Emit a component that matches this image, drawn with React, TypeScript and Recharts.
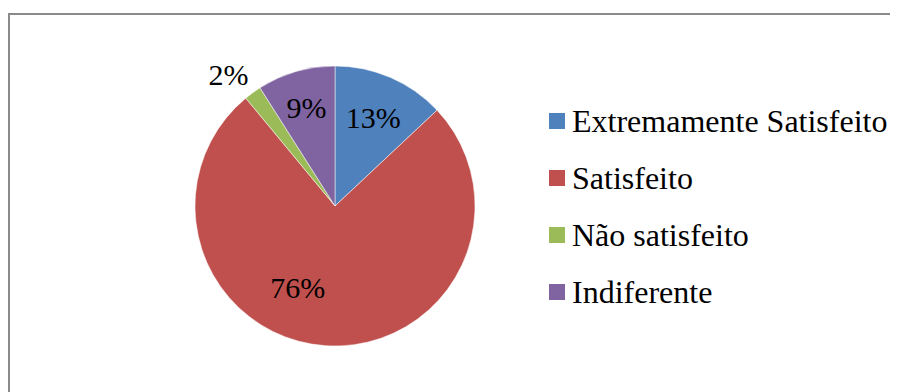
import { PieChart, Pie, Cell, Legend } from "recharts";

const categories = ["Extremamente Satisfeito", "Satisfeito", "Não satisfeito", "Indiferente"];
const shares = [13, 76, 2, 9];
const colors = ["#4F81BD", "#C0504D", "#9BBB59", "#8064A2"];

// where excel's "best fit" put each label: fraction of radius, angle nudge (deg)
const labelRadius = [0.69, 0.64, 1.21, 0.73];
const labelShift = [0, -21, 3, 0];

const RAD = Math.PI / 180;
const FONT = "Liberation Serif";

const chartData = categories.map((name, i) => ({ name, value: shares[i] }));

const renderLabel = (props: any) => {
  const { cx, cy, midAngle, outerRadius, index, value } = props;
  const r = outerRadius * labelRadius[index];
  const a = (midAngle + labelShift[index]) * RAD;
  const x = cx + r * Math.cos(a);
  const y = cy - r * Math.sin(a);
  return (
    <text
      x={x}
      y={y}
      fill="#000"
      textAnchor="middle"
      dominantBaseline="central"
      fontFamily={FONT}
      fontSize={30}
    >
      {value}%
    </text>
  );
};

// legend drawn in data order (recharts sorts it otherwise)
const renderLegend = () => (
  <div style={{ fontFamily: FONT, fontSize: 32, color: "#000" }}>
    {categories.map((name, i) => (
      <div key={name} style={{ height: 57, display: "flex", alignItems: "center" }}>
        <span
          style={{
            display: "inline-block",
            width: 16,
            height: 16,
            background: colors[i],
            marginRight: 7,
            marginTop: -2,
          }}
        />
        <span>{name}</span>
      </div>
    ))}
  </div>
);

const App = () => {
  return (
    <div style={{ paddingTop: 5 }}>
      <div style={{ width: 900, height: 400, border: "2px solid #8a8a8a", boxSizing: "border-box" }}>
        <PieChart width={890} height={380} margin={{ top: 0, right: 0, bottom: 0, left: 0 }}>
          <Pie
            data={chartData}
            dataKey="value"
            nameKey="name"
            cx={325}
            cy={191}
            outerRadius={140}
            startAngle={90}
            endAngle={-270}
            stroke="#fff"
            strokeWidth={0.5}
            label={renderLabel}
            labelLine={false}
            isAnimationActive={false}
          >
            {chartData.map((d, i) => (
              <Cell key={d.name} fill={colors[i]} />
            ))}
          </Pie>
          <Legend
            layout="vertical"
            content={renderLegend}
            wrapperStyle={{ left: 539, top: 78, width: 350 }}
          />
        </PieChart>
      </div>
    </div>
  );
};

export default App;
